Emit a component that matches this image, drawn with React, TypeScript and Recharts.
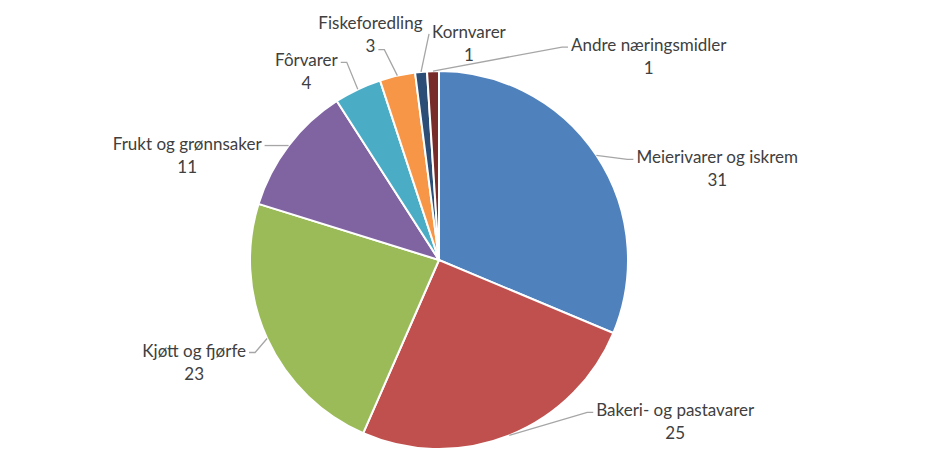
import { Cell, Pie, PieChart } from "recharts";

const categories = [
  "Meierivarer og iskrem",
  "Bakeri- og pastavarer",
  "Kjøtt og fjørfe",
  "Frukt og grønnsaker",
  "Fôrvarer",
  "Fiskeforedling",
  "Kornvarer",
  "Andre næringsmidler",
];
const values = [31, 25, 23, 11, 4, 3, 1, 1];
const colors = [
  "#4F81BD",
  "#C0504D",
  "#9BBB59",
  "#8064A2",
  "#4BACC6",
  "#F79646",
  "#2C4D75",
  "#772C2A",
];

// where each leader line ends, relative to the slice edge
const labelPlacement = [
  { dx: 37, dy: 4, side: "start", row: 0 },
  { dx: 84, dy: -23, side: "start", row: 0 },
  { dx: -18, dy: 14, side: "end", row: 0 },
  { dx: -24, dy: 0, side: "end", row: 0 },
  { dx: -17, dy: -27, side: "end", row: 0 },
  { dx: -19, dy: -26, side: "end", row: 1 },
  { dx: 8, dy: -38, side: "start", row: 0 },
  { dx: 135, dy: -24, side: "start", row: 0 },
];

const FONT = "17px Lato";
const RAD = Math.PI / 180;
const LINE_GAP = 23;

const data = categories.map((name, i) => ({ name, value: values[i] }));

let ctx: CanvasRenderingContext2D | null = null;
function textWidth(s: string) {
  if (!ctx) ctx = document.createElement("canvas").getContext("2d");
  if (!ctx) return s.length * 8;
  ctx.font = FONT;
  return ctx.measureText(s).width;
}

// eslint-disable-next-line @typescript-eslint/no-explicit-any
function renderLabel(props: any) {
  const { cx, cy, midAngle, outerRadius, index, name, value } = props;
  const p = labelPlacement[index];
  const ex = cx + outerRadius * Math.cos(-midAngle * RAD);
  const ey = cy + outerRadius * Math.sin(-midAngle * RAD);
  const tx = ex + p.dx;
  const ty = ey + p.dy;
  const elbow = index === 6 ? 0 : p.side === "start" ? -6 : 6;
  const line1 = String(name);
  const line2 = String(value);
  const w = textWidth(p.row === 0 ? line1 : line2);
  const centerX = p.side === "start" ? tx + 3 + w / 2 : tx - 3 - w / 2;
  const base1 = p.row === 0 ? ty + 4 : ty + 2 - LINE_GAP;
  return (
    <g key={`lbl-${index}`}>
      <polyline
        points={`${ex},${ey} ${tx + elbow},${ty} ${tx},${ty}`}
        fill="none"
        stroke="#A6A6A6"
        strokeWidth={1.3}
      />
      <text x={centerX} y={base1} textAnchor="middle" fill="#404040" style={{ font: FONT }}>
        {line1}
      </text>
      <text x={centerX} y={base1 + LINE_GAP} textAnchor="middle" fill="#404040" style={{ font: FONT }}>
        {line2}
      </text>
    </g>
  );
}

export default function App() {
  return (
    <div style={{ position: "absolute", left: 0, top: 0, background: "#fff" }}>
      <PieChart width={945} height={450} margin={{ top: 0, right: 0, bottom: 0, left: 0 }}>
        <Pie
          data={data}
          dataKey="value"
          nameKey="name"
          cx={439}
          cy={260}
          outerRadius={189}
          startAngle={90}
          endAngle={-270}
          stroke="#fff"
          strokeWidth={2}
          label={renderLabel}
          labelLine={false}
          isAnimationActive={false}
        >
          {data.map((d, i) => (
            <Cell key={d.name} fill={colors[i]} />
          ))}
        </Pie>
      </PieChart>
    </div>
  );
}
